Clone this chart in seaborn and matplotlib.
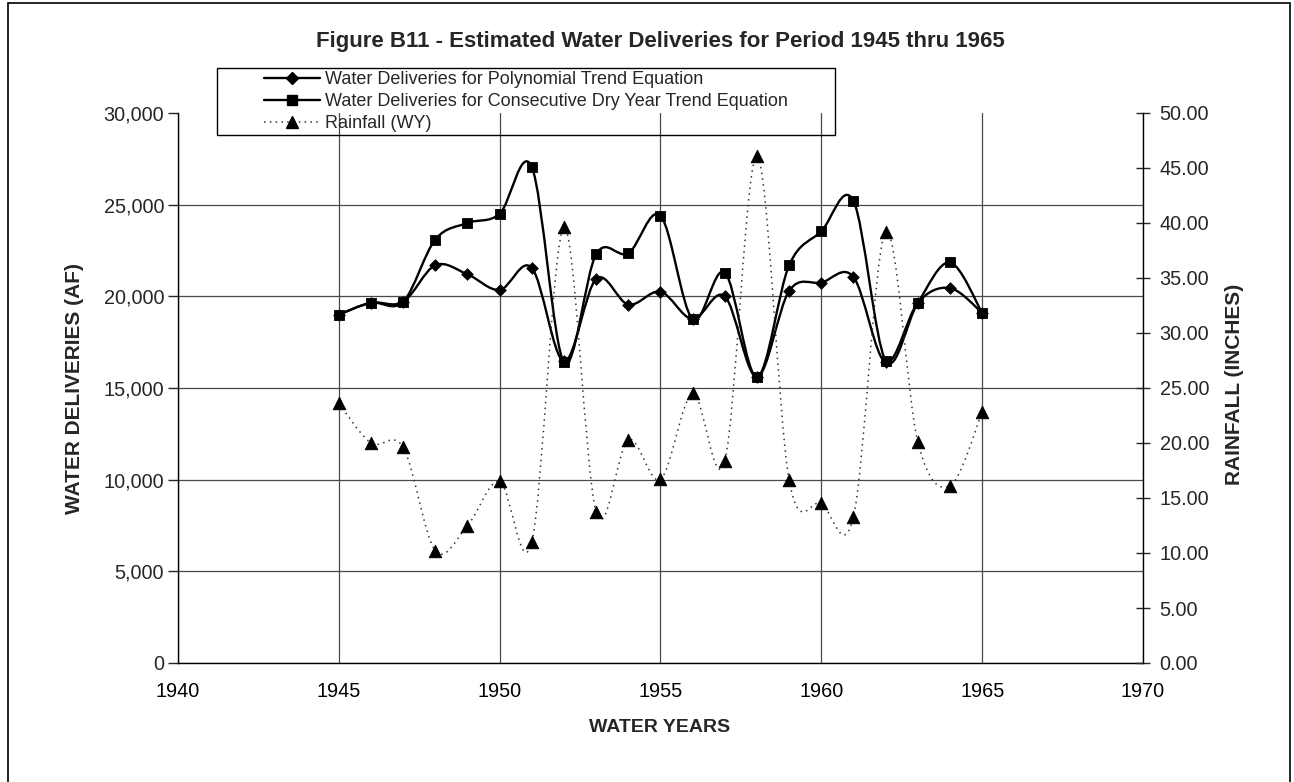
import numpy as np
import pandas as pd
import seaborn as sns
import matplotlib.pyplot as plt
from matplotlib.path import Path
from matplotlib.patches import PathPatch, Rectangle
from matplotlib.lines import Line2D
from matplotlib.ticker import FormatStrFormatter, FuncFormatter

# ---------------- data ----------------
years = [1945, 1946, 1947, 1948, 1949, 1950, 1951, 1952, 1953, 1954, 1955,
         1956, 1957, 1958, 1959, 1960, 1961, 1962, 1963, 1964, 1965]

poly_trend = [19000, 19650, 19700, 21700, 21200, 20350, 21550, 16450, 20950, 19550, 20250,
              18750, 20000, 15600, 20300, 20750, 21050, 16400, 19650, 20450, 19100]

dry_trend = [19000, 19650, 19700, 23100, 24000, 24500, 27050, 16400, 22300, 22350, 24400,
             18750, 21300, 15600, 21700, 23550, 25200, 16500, 19650, 21850, 19100]

rainfall = [23.6, 20.0, 19.6, 10.2, 12.5, 16.5, 11.0, 39.6, 13.7, 20.3, 16.7,
            24.5, 18.4, 46.1, 16.6, 14.5, 13.3, 39.2, 20.1, 16.1, 22.8]

labels = ["Water Deliveries for Polynomial Trend Equation",
          "Water Deliveries for Consecutive Dry Year Trend Equation",
          "Rainfall (WY)"]

df = pd.DataFrame({"Year": years, "Poly": poly_trend, "Dry": dry_trend, "Rain": rainfall})

# ---------------- style ----------------
sns.set_style("white")
plt.rcParams['font.family'] = ['Liberation Sans', 'DejaVu Sans']

W, H = 1294, 782
fig = plt.figure(figsize=(W / 100, H / 100), dpi=100)
ax = fig.add_axes([178 / W, 1 - 663 / H, (1143 - 178) / W, (663 - 113) / H])
ax2 = ax.twinx()


def smooth_path(x, y):
    # excel-style smoothed line: cubic bezier through every point
    x = np.asarray(x, float)
    y = np.asarray(y, float)
    xp = np.r_[x[0], x, x[-1]]
    yp = np.r_[y[0], y, y[-1]]
    verts = [(x[0], y[0])]
    codes = [Path.MOVETO]
    for i in range(len(x) - 1):
        c1 = (x[i] + (xp[i + 2] - xp[i]) / 6, y[i] + (yp[i + 2] - yp[i]) / 6)
        c2 = (x[i + 1] - (xp[i + 3] - xp[i + 1]) / 6, y[i + 1] - (yp[i + 3] - yp[i + 1]) / 6)
        verts += [c1, c2, (x[i + 1], y[i + 1])]
        codes += [Path.CURVE4] * 3
    return Path(verts, codes)


# deliveries (left axis)
ax.add_patch(PathPatch(smooth_path(df.Year, df.Dry), fill=False, ec="black", lw=1.7, zorder=3))
ax.add_patch(PathPatch(smooth_path(df.Year, df.Poly), fill=False, ec="black", lw=1.7, zorder=3))
sns.scatterplot(data=df, x="Year", y="Dry", marker="s", s=58, color="black",
                edgecolor="black", ax=ax, zorder=4, legend=False)
sns.scatterplot(data=df, x="Year", y="Poly", marker="D", s=36, color="black",
                edgecolor="black", ax=ax, zorder=4, legend=False)

# rainfall (right axis)
ax2.add_patch(PathPatch(smooth_path(df.Year, df.Rain), fill=False, ec="#333333", lw=1.1,
                        linestyle=(0, (1, 2.8)), zorder=3))
sns.scatterplot(data=df, x="Year", y="Rain", marker="^", s=80, color="black",
                edgecolor="black", ax=ax2, zorder=4, legend=False)

# ---------------- axes ----------------
ax.set_xlim(1940, 1970)
ax.set_ylim(0, 30000)
ax2.set_ylim(0, 50)
ax.set_xticks(range(1940, 1971, 5))
ax.set_yticks(range(0, 30001, 5000))
ax2.set_yticks(np.arange(0, 50.01, 5))
ax.yaxis.set_major_formatter(FuncFormatter(lambda v, p: f"{int(v):,}"))
ax2.yaxis.set_major_formatter(FormatStrFormatter("%.2f"))
ax.set_xlabel("")
ax.set_ylabel("")
ax2.set_ylabel("")

ax.grid(True, color="#4a4a4a", lw=0.9)
for gl in ax.get_ygridlines()[-1:]:
    gl.set_visible(False)
ax.set_axisbelow(True)

for a in (ax, ax2):
    a.spines["top"].set_visible(False)
    for s in a.spines.values():
        s.set_color("black")
        s.set_linewidth(1.0)
ax.spines["right"].set_visible(False)
ax2.spines["left"].set_visible(False)
ax2.spines["bottom"].set_visible(False)

ax.tick_params(axis="x", direction="out", length=5, width=1, pad=9, labelsize=14.3, colors="black")
ax.tick_params(axis="y", left=True, direction="out", length=7, width=1, pad=3, labelsize=14.3)
ax2.tick_params(axis="y", right=True, direction="inout", length=10, width=1, pad=7, labelsize=14.3)

# ---------------- text ----------------
fig.text(660 / W, 1 - 42 / H, "Figure B11 - Estimated Water Deliveries for Period 1945 thru 1965",
         ha="center", va="center", fontsize=16, fontweight="bold")
fig.text(74 / W, 1 - 388 / H, "WATER DELIVERIES (AF)", rotation=90, ha="center", va="center",
         fontsize=15, fontweight="bold")
fig.text(1235 / W, 1 - 384 / H, "RAINFALL (INCHES)", rotation=90, ha="center", va="center",
         fontsize=15, fontweight="bold")
fig.text(660 / W, 1 - 727 / H, "WATER YEARS", ha="center", va="center",
         fontsize=14, fontweight="bold")

# legend
handles = [
    Line2D([], [], color="black", lw=1.7, marker="D", markersize=6),
    Line2D([], [], color="black", lw=1.7, marker="s", markersize=7.6),
    Line2D([], [], color="#333333", lw=1.1, linestyle=(0, (1, 2.8)), marker="^",
           markersize=9, markerfacecolor="black", markeredgecolor="black"),
]
fig.legend(handles, labels, loc="upper left", bbox_to_anchor=(264 / W, 1 - 71 / H),
           frameon=False, fontsize=13, borderpad=0, borderaxespad=0,
           handlelength=3.1, handletextpad=0.3, labelspacing=0.28)
fig.patches.append(Rectangle((217 / W, 1 - 135 / H), (835 - 217) / W, (135 - 68) / H,
                             transform=fig.transFigure, fill=False, ec="black", lw=1.0))

# page frame
fig.patches.append(Rectangle((8 / W, -0.05), (1290 - 8) / W, 1.05 - 3 / H,
                             transform=fig.transFigure, fill=False, ec="black", lw=1.2,
                             clip_on=False))

fig.savefig("out.png", dpi=100)
